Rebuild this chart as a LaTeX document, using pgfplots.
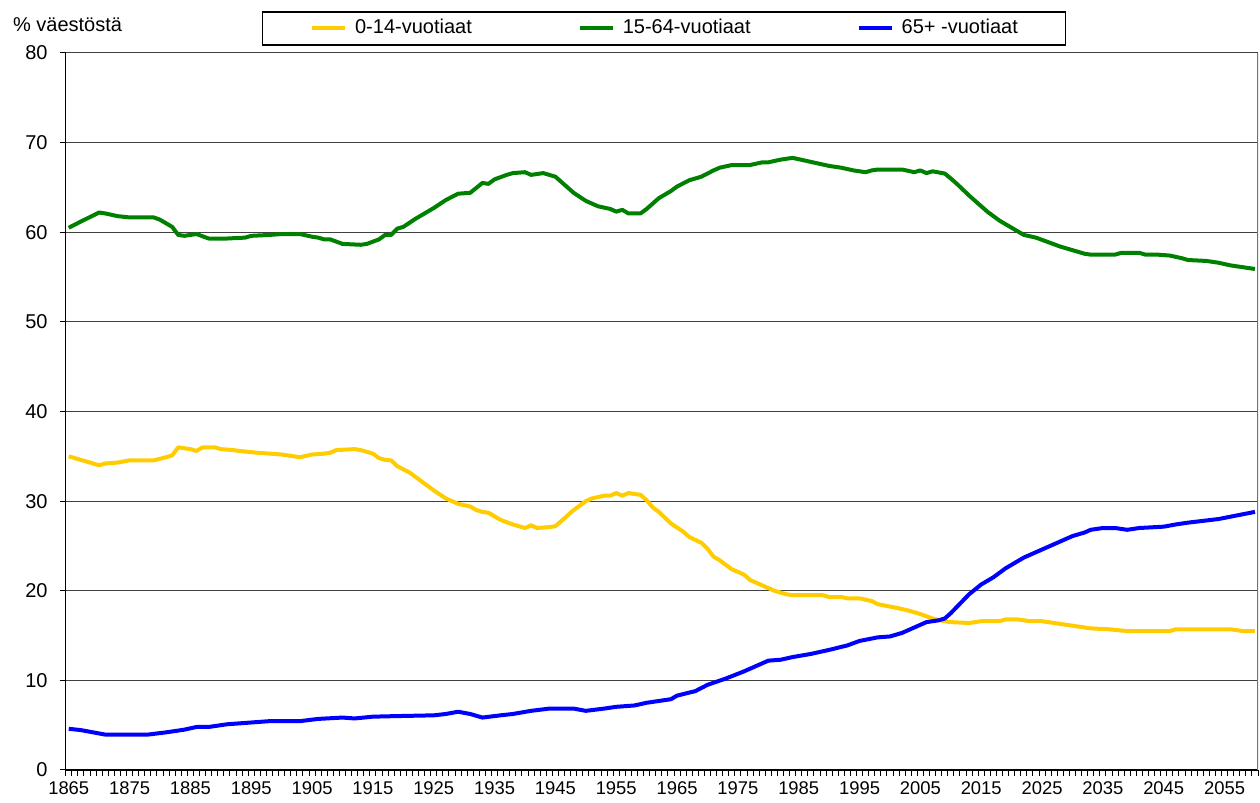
\documentclass[border=0pt]{standalone}
\usepackage{fontspec}
\setmainfont{Liberation Sans}
\usepackage{pgfplots}
\pgfplotsset{compat=1.18}
\definecolor{cyellow}{HTML}{FFCC00}
\definecolor{cgreen}{HTML}{008000}
\definecolor{cblue}{HTML}{0000FF}
\begin{document}
\begin{tikzpicture}
\useasboundingbox (-32.85pt,-16.5pt) rectangle (597.15pt,385pt);
\begin{axis}[
  at={(0pt,0pt)}, anchor=south west,
  scale only axis, width=596.15pt, height=358.5pt,
  xmin=1864.5, xmax=2060.5, ymin=0, ymax=80,
  axis lines*=left,
  axis line style={-, black, line width=0.6pt},
  ytick={0,10,...,80},
  minor ytick={0,10,...,80},
  xtick={1865,1875,...,2055},
  minor xtick={1864.5,1865.5,...,2060.5},
  major tick length=0pt, minor tick length=3pt,
  tick align=outside,
  tick style={black, line width=0.5pt},
  ymajorgrids, grid style={black!75, line width=0.5pt},
  /pgf/number format/assume math mode=true,
  /pgf/number format/1000 sep={},
  xticklabel style={font=\fontsize{9.2}{10}\selectfont, anchor=north, inner sep=0pt, yshift=-5.5pt},
  yticklabel style={font=\fontsize{10}{12}\selectfont, anchor=east, inner sep=0pt, xshift=-8.85pt},
  legend columns=3,
  legend image code/.code={\draw[#1, line width=2pt] (0pt,0pt) -- (16.5pt,0pt);},
  legend style={at={(axis description cs:0.5018,1.0342)}, anchor=center,
    draw=black, line width=0.6pt, inner xsep=24pt, inner ysep=3.5pt,
    font=\fontsize{10}{12}\selectfont,
    nodes={inner sep=0pt, text height=7.5pt, text depth=2pt},
    /tikz/every odd column/.append style={column sep=4pt},
    /tikz/every even column/.append style={column sep=53pt}},
]
\addplot[cyellow, line width=2pt, line join=round] coordinates {
(1865,35.0) (1867,34.6) (1868,34.4) (1870,34.0) (1871,34.2) (1873,34.3) (1875,34.55) (1879,34.55)
(1881,34.9) (1882,35.1) (1883,36.0) (1885,35.8) (1886,35.6) (1887,36.0) (1889,36.0) (1890,35.8)
(1892,35.7) (1893,35.6) (1896,35.4) (1898,35.3) (1900,35.2) (1903,34.9) (1905,35.2) (1907,35.3)
(1908,35.4) (1909,35.7) (1912,35.8) (1913,35.7) (1915,35.3) (1916,34.8) (1917,34.6) (1918,34.55)
(1919,33.9) (1921,33.2) (1923,32.2) (1925,31.2) (1927,30.3) (1929,29.7) (1931,29.4) (1932,29.0)
(1933,28.8) (1934,28.7) (1936,27.9) (1938,27.4) (1940,27.0) (1941,27.3) (1942,27.0) (1944,27.1)
(1945,27.2) (1946,27.8) (1948,29.0) (1950,30.0) (1951,30.3) (1953,30.6) (1954,30.6) (1955,30.9)
(1956,30.6) (1957,30.9) (1959,30.7) (1960,30.1) (1961,29.3) (1962,28.8) (1964,27.5) (1966,26.6)
(1967,26.0) (1969,25.35) (1970,24.7) (1971,23.8) (1972,23.4) (1974,22.4) (1976,21.8) (1977,21.2)
(1979,20.6) (1981,20.0) (1983,19.6) (1984,19.5) (1989,19.5) (1990,19.3) (1992,19.3) (1993,19.15)
(1995,19.15) (1997,18.85) (1998,18.5) (2001,18.1) (2003,17.8) (2005,17.4) (2007,16.9) (2009,16.6)
(2010,16.5) (2013,16.4) (2015,16.6) (2018,16.6) (2019,16.8) (2021,16.8) (2023,16.6) (2025,16.6)
(2028,16.3) (2031,16.0) (2033,15.8) (2036,15.7) (2039,15.5) (2046,15.5) (2047,15.7) (2056,15.7)
(2058,15.5) (2060,15.5)
};
\addlegendentry{0-14-vuotiaat}
\addplot[cgreen, line width=2pt, line join=round] coordinates {
(1865,60.5) (1867,61.2) (1870,62.2) (1871,62.1) (1873,61.8) (1875,61.65) (1879,61.65) (1880,61.4)
(1882,60.6) (1883,59.7) (1884,59.6) (1886,59.8) (1888,59.3) (1891,59.3) (1894,59.4) (1895,59.6)
(1898,59.7) (1900,59.8) (1903,59.8) (1905,59.5) (1906,59.4) (1907,59.2) (1908,59.2) (1910,58.7)
(1913,58.6) (1914,58.7) (1916,59.2) (1917,59.7) (1918,59.7) (1919,60.4) (1920,60.6) (1922,61.5)
(1925,62.7) (1927,63.6) (1929,64.3) (1931,64.4) (1933,65.5) (1934,65.4) (1935,65.9) (1937,66.4)
(1938,66.6) (1940,66.7) (1941,66.4) (1943,66.6) (1945,66.2) (1946,65.6) (1948,64.4) (1950,63.5)
(1952,62.9) (1954,62.6) (1955,62.3) (1956,62.5) (1957,62.1) (1959,62.1) (1960,62.6) (1962,63.8)
(1964,64.6) (1965,65.1) (1967,65.8) (1969,66.2) (1971,66.9) (1972,67.2) (1974,67.5) (1977,67.5)
(1979,67.8) (1980,67.8) (1982,68.1) (1984,68.3) (1986,68.0) (1988,67.7) (1990,67.4) (1992,67.2)
(1994,66.9) (1996,66.7) (1997,66.9) (1998,67.0) (2002,67.0) (2004,66.7) (2005,66.9) (2006,66.6)
(2007,66.8) (2009,66.55) (2010,66.0) (2011,65.4) (2013,64.1) (2015,62.9) (2016,62.3) (2018,61.3)
(2020,60.5) (2022,59.7) (2024,59.4) (2026,58.9) (2028,58.4) (2030,58.0) (2032,57.6) (2033,57.5)
(2037,57.5) (2038,57.7) (2041,57.7) (2042,57.5) (2044,57.5) (2046,57.4) (2048,57.1) (2049,56.9)
(2052,56.8) (2054,56.6) (2056,56.3) (2058,56.1) (2060,55.9)
};
\addlegendentry{15-64-vuotiaat}
\addplot[cblue, line width=2pt, line join=round] coordinates {
(1865,4.6) (1867,4.45) (1869,4.2) (1871,3.95) (1878,3.95) (1881,4.2) (1884,4.5) (1886,4.8)
(1888,4.8) (1891,5.1) (1894,5.25) (1898,5.45) (1903,5.45) (1906,5.7) (1910,5.85) (1912,5.75)
(1915,5.95) (1918,6.0) (1925,6.1) (1927,6.25) (1929,6.5) (1931,6.25) (1933,5.85) (1936,6.1)
(1938,6.25) (1941,6.6) (1944,6.85) (1948,6.85) (1950,6.6) (1953,6.85) (1955,7.05) (1958,7.2)
(1960,7.5) (1962,7.7) (1964,7.9) (1965,8.3) (1968,8.8) (1970,9.5) (1973,10.2) (1976,11.0)
(1978,11.6) (1980,12.2) (1982,12.3) (1984,12.6) (1987,12.95) (1990,13.4) (1993,13.9) (1995,14.4)
(1998,14.8) (2000,14.9) (2002,15.3) (2004,15.9) (2006,16.5) (2008,16.7) (2009,16.9) (2010,17.5)
(2011,18.2) (2012,18.9) (2013,19.6) (2015,20.7) (2017,21.5) (2019,22.5) (2021,23.3) (2022,23.7)
(2024,24.3) (2027,25.2) (2030,26.1) (2032,26.5) (2033,26.8) (2035,27.0) (2037,27.0) (2039,26.8) (2041,27.0)
(2045,27.15) (2047,27.4) (2049,27.6) (2054,28.0) (2057,28.4) (2060,28.8)
};
\addlegendentry{65+ -vuotiaat}
\draw[black!55, line width=0.6pt] (rel axis cs:1,0) -- (rel axis cs:1,1);
\end{axis}
\node[anchor=base west, inner sep=0pt, font=\fontsize{10}{12}\selectfont] at (-26.5pt,369pt) {\% väestöstä};
\end{tikzpicture}
\end{document}
